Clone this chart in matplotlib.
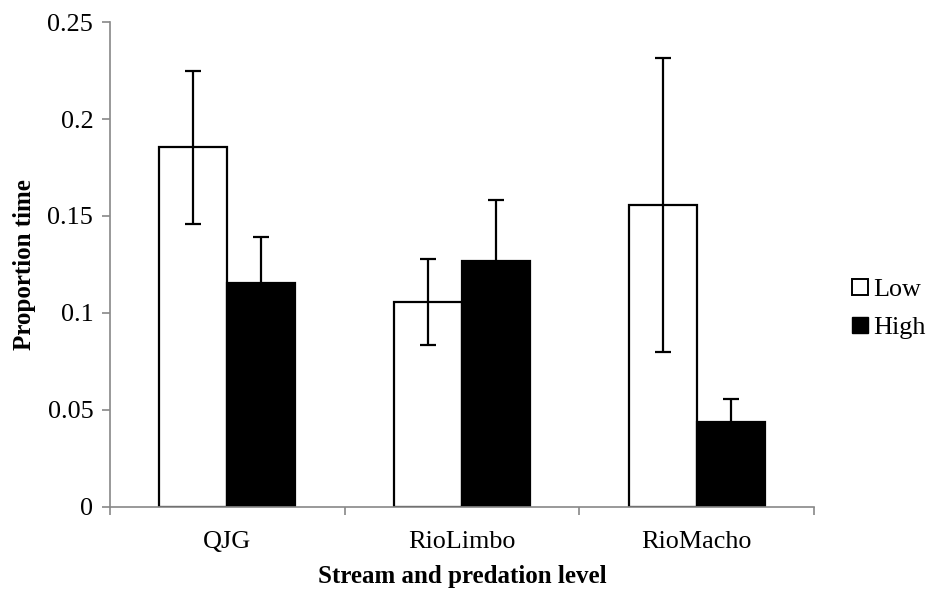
import matplotlib
matplotlib.use("Agg")
import matplotlib.pyplot as plt
import numpy as np
from matplotlib.lines import Line2D

plt.rcParams['font.family'] = ['Liberation Serif', 'DejaVu Serif']

streams = ["QJG", "RioLimbo", "RioMacho"]
low_mean = [0.1855, 0.1058, 0.1557]
low_err = [0.0395, 0.0222, 0.0760]
high_mean = [0.1157, 0.1270, 0.0438]
high_err = [0.0237, 0.0310, 0.0120]
y_ticks = [0, 0.05, 0.1, 0.15, 0.2, 0.25]
y_tick_labels = ["0", "0.05", "0.1", "0.15", "0.2", "0.25"]

TICK_FS = 18.8
LABEL_FS = 18.0

fig = plt.figure(figsize=(9.33, 5.90), dpi=100)
ax = fig.add_axes([0.1179, 0.1407, 0.7546, 0.822])

x = np.arange(len(streams))
w = 0.29
err_kw = dict(ecolor="black", elinewidth=1.6, capsize=6, capthick=1.6)
ax.bar(x - w / 2, low_mean, w, yerr=low_err, color="white", edgecolor="black",
       linewidth=1.6, error_kw=err_kw, zorder=2)
ax.bar(x + w / 2, high_mean, w, yerr=high_err, color="black", edgecolor="black",
       linewidth=1.6, error_kw=err_kw, zorder=2)

ax.set_xlim(-0.5, len(streams) - 0.5)
ax.set_ylim(0, 0.25)
ax.set_yticks(y_ticks)
ax.set_yticklabels(y_tick_labels)

# category boundaries carry the tick marks, names sit in between
ax.set_xticks(np.arange(len(streams) + 1) - 0.5)
ax.set_xticklabels([])
ax.set_xticks(x, minor=True)
ax.set_xticklabels(streams, minor=True)
ax.tick_params(axis="x", which="minor", length=0, pad=17, labelsize=TICK_FS)
ax.tick_params(axis="x", which="major", length=6, width=1.2, color="#888888", direction="out")
ax.tick_params(axis="y", length=6, width=1.2, color="#888888", direction="out",
               labelsize=TICK_FS, pad=6)

for side in ("top", "right"):
    ax.spines[side].set_visible(False)
for side in ("left", "bottom"):
    ax.spines[side].set_color("#888888")
    ax.spines[side].set_linewidth(1.2)

ax.set_ylabel("Proportion time", fontsize=LABEL_FS, fontweight="bold", labelpad=8)
ax.set_xlabel("Stream and predation level", fontsize=LABEL_FS, fontweight="bold", labelpad=9)

handles = [
    Line2D([], [], marker="s", linestyle="none", markersize=11,
           markerfacecolor="white", markeredgecolor="black", markeredgewidth=1.4),
    Line2D([], [], marker="s", linestyle="none", markersize=11,
           markerfacecolor="black", markeredgecolor="black"),
]
fig.legend(handles, ["Low", "High"], loc="center left", bbox_to_anchor=(0.912, 0.477),
           frameon=False, fontsize=TICK_FS, handlelength=0.7, handletextpad=0.15,
           labelspacing=0.55, borderpad=0, borderaxespad=0)

fig.savefig("out.png", dpi=100)
